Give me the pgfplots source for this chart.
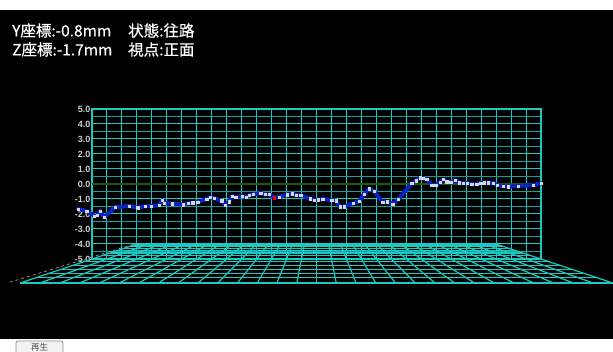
\documentclass[border=0pt]{standalone}
\usepackage{fontspec}
\setmainfont{Liberation Sans}
\newfontfamily\cjk{Noto Sans CJK JP}[FakeBold=0.5]
\newfontfamily\cjkr{Noto Sans CJK JP}
\usepackage{pgfplots}
\usepackage{pgfplotstable}
\pgfplotsset{compat=1.18}
\definecolor{gridc}{RGB}{28,200,192}
\definecolor{gridd}{RGB}{22,160,155}
\definecolor{zeroc}{RGB}{30,90,10}
\definecolor{linec}{RGB}{10,35,200}
\definecolor{ptc}{RGB}{215,215,215}
\definecolor{labc}{RGB}{205,205,205}

\pgfplotstableread{
x y
-0.92 -1.67
-0.35 -1.80
0.15 -2.13
0.35 -2.09
0.53 -1.80
0.82 -2.22
1.54 -1.55
2.49 -1.47
3.05 -1.58
3.54 -1.49
3.94 -1.47
4.48 -1.42
4.70 -1.07
4.83 -1.27
5.37 -1.31
6.10 -1.38
6.43 -1.29
6.73 -1.25
7.06 -1.22
7.66 -1.00
7.88 -0.89
8.15 -0.95
8.67 -1.11
8.89 -1.42
9.17 -1.18
9.35 -0.80
9.60 -0.89
10.04 -0.80
10.29 -0.87
10.51 -0.75
10.78 -0.69
11.27 -0.60
11.56 -0.69
11.85 -0.69
12.16 -0.91
12.49 -0.87
13.05 -0.71
13.36 -0.65
13.65 -0.75
13.94 -0.75
14.57 -0.98
14.83 -1.07
15.12 -1.05
15.41 -1.00
16.01 -1.07
16.30 -1.11
16.57 -1.51
16.84 -1.51
17.46 -1.29
17.86 -1.13
18.17 -0.69
18.53 -0.31
18.84 -0.47
19.42 -1.22
19.73 -1.18
20.08 -1.33
20.47 -1.02
21.36 0.05
21.65 0.22
21.91 0.42
22.14 0.38
22.36 0.31
22.70 -0.07
22.96 -0.07
23.25 0.11
23.47 0.31
23.70 0.15
23.96 0.11
24.25 0.27
24.54 0.09
24.81 0.05
25.07 0.05
25.37 0.00
25.70 0.00
25.97 0.05
26.21 0.09
26.48 0.09
26.81 0.05
27.08 -0.07
27.48 -0.13
27.81 -0.18
28.48 -0.13
29.48 -0.07
30.02 0.05
}\datatable

\newcommand{\fl}[4]{\addplot[floorline] coordinates {(#1,#2) (#3,#4)};}

\begin{document}
\begin{tikzpicture}
\useasboundingbox (0,0) rectangle (613pt,352pt);
\fill[white] (0,0) rectangle (613pt,352pt);
\fill[black] (0,13pt) rectangle (613pt,342pt);
\node[anchor=west, inner sep=0pt, text=white, font=\cjk\fontsize{15.5}{18}\selectfont] at (12pt,321.5pt) {Y座標:-0.8mm};
\node[anchor=west, inner sep=0pt, text=white, font=\cjk\fontsize{15.5}{18}\selectfont] at (128pt,321.5pt) {状態:往路};
\node[anchor=west, inner sep=0pt, text=white, font=\cjk\fontsize{15.5}{18}\selectfont] at (12pt,302.5pt) {Z座標:-1.7mm};
\node[anchor=west, inner sep=0pt, text=white, font=\cjk\fontsize{15.5}{18}\selectfont] at (128pt,302.5pt) {視点:正面};
\draw[rounded corners=2pt, fill=black!5, draw=black!45, line width=0.7pt] (16pt,-3pt) rectangle (63pt,11pt);
\node[inner sep=0pt, text=black!70, font=\cjkr\fontsize{8.5}{9}\selectfont] at (39.5pt,4.5pt) {再生};
\begin{axis}[
  at={(92pt,93pt)}, anchor=south west,
  scale only axis, width=449pt, height=150pt,
  xmin=0, xmax=30, ymin=-5, ymax=5,
  clip=false,
  xtick={0,1,...,30}, xticklabels={},
  ytick={-5,-4,...,5},
  yticklabels={-5.0,-4.0,-3.0,-2.0,-1.0,0.0,1.0,2.0,3.0,4.0,5.0},
  minor y tick num=1,
  grid=both,
  major tick length=0pt, minor tick length=0pt,
  major grid style={color=gridc, line width=1pt},
  minor grid style={color=gridd, line width=1pt},
  axis line style={color=gridc, line width=1.1pt},
  yticklabel style={font=\bfseries\fontsize{9}{9}\selectfont, text=labc, inner sep=0pt, xshift=-1.5pt},
  floorline/.style={color=gridc, line width=1.2pt, forget plot},
]
% floor: depth lines
\fl{3.000}{-4.000}{27.000}{-4.000}
\fl{2.592}{-4.136}{27.408}{-4.136}
\fl{2.157}{-4.281}{27.843}{-4.281}
\fl{1.689}{-4.437}{28.311}{-4.437}
\fl{1.188}{-4.604}{28.812}{-4.604}
\fl{0.645}{-4.785}{29.355}{-4.785}
\fl{0.000}{-5.000}{30.000}{-5.000}
\fl{-0.576}{-5.192}{30.576}{-5.192}
\fl{-1.269}{-5.423}{31.269}{-5.423}
\fl{-2.025}{-5.675}{32.025}{-5.675}
\fl{-2.856}{-5.952}{32.856}{-5.952}
\fl{-3.774}{-6.258}{33.774}{-6.258}
\fl{-4.788}{-6.596}{34.788}{-6.596}
% floor: column lines
\fl{3.0}{-4}{-4.788}{-6.596}
\fl{3.8}{-4}{-3.469}{-6.596}
\fl{4.6}{-4}{-2.150}{-6.596}
\fl{5.4}{-4}{-0.830}{-6.596}
\fl{6.2}{-4}{0.489}{-6.596}
\fl{7.0}{-4}{1.808}{-6.596}
\fl{7.8}{-4}{3.127}{-6.596}
\fl{8.6}{-4}{4.446}{-6.596}
\fl{9.4}{-4}{5.766}{-6.596}
\fl{10.2}{-4}{7.085}{-6.596}
\fl{11.0}{-4}{8.404}{-6.596}
\fl{11.8}{-4}{9.723}{-6.596}
\fl{12.6}{-4}{11.042}{-6.596}
\fl{13.4}{-4}{12.362}{-6.596}
\fl{14.2}{-4}{13.681}{-6.596}
\fl{15.0}{-4}{15.000}{-6.596}
\fl{15.8}{-4}{16.319}{-6.596}
\fl{16.6}{-4}{17.638}{-6.596}
\fl{17.4}{-4}{18.958}{-6.596}
\fl{18.2}{-4}{20.277}{-6.596}
\fl{19.0}{-4}{21.596}{-6.596}
\fl{19.8}{-4}{22.915}{-6.596}
\fl{20.6}{-4}{24.234}{-6.596}
\fl{21.4}{-4}{25.554}{-6.596}
\fl{22.2}{-4}{26.873}{-6.596}
\fl{23.0}{-4}{28.192}{-6.596}
\fl{23.8}{-4}{29.511}{-6.596}
\fl{24.6}{-4}{30.830}{-6.596}
\fl{25.4}{-4}{32.150}{-6.596}
\fl{26.2}{-4}{33.469}{-6.596}
\fl{27.0}{-4}{34.788}{-6.596}
% projection on floor
\addplot[color=black!45, dashed, line width=0.8pt, forget plot] coordinates {(-5.5,-6.55) (3.0,-3.95)};
% zero line
\addplot[color=zeroc, line width=1.8pt, forget plot] coordinates {(0,0) (30,0)};
% data
\addplot[color=linec, line width=4pt, line join=round, line cap=round] table[x=x,y=y] {\datatable};
\addplot[only marks, mark=square*, mark size=1.2pt, color=ptc] table[x=x,y=y] {\datatable};
\addplot[only marks, mark=square*, mark size=1.2pt, color=red] coordinates {(12.16,-0.91)};
\end{axis}
\end{tikzpicture}
\end{document}
